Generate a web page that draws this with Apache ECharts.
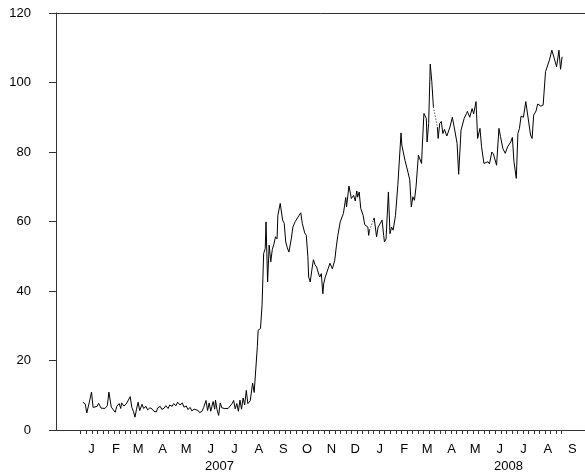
<!DOCTYPE html>
<html>
<head>
<meta charset="UTF-8">
<title></title>
<script src="https://cdn.jsdelivr.net/npm/echarts@6/dist/echarts.min.js"></script>
<style type="text/css">
  *{margin:0;padding:0;}
  #main{width:585px;height:472px;background:#fff;}
</style>
</head>
<body>
<div id="main"></div>
<script type="text/javascript">
// daily series (null = gap in the data)
var dates = [
  '2007-01-04','2007-01-07','2007-01-09','2007-01-12','2007-01-15','2007-01-17','2007-01-19','2007-01-22','2007-01-24','2007-01-27',
  '2007-01-29','2007-02-01','2007-02-04','2007-02-06','2007-02-09','2007-02-11','2007-02-14','2007-02-16','2007-02-19','2007-02-21',
  '2007-02-22','2007-02-25','2007-02-28','2007-03-02','2007-03-05','2007-03-07','2007-03-09','2007-03-11','2007-03-13','2007-03-15',
  '2007-03-17','2007-03-20','2007-03-22','2007-03-25','2007-03-27','2007-03-30','2007-04-02','2007-04-04','2007-04-07','2007-04-09',
  '2007-04-12','2007-04-14','2007-04-17','2007-04-19','2007-04-22','2007-04-24','2007-04-27','2007-04-29','2007-05-02','2007-05-04',
  '2007-05-07','2007-05-10','2007-05-12','2007-05-15','2007-05-17','2007-05-20','2007-05-22','2007-05-25','2007-05-27','2007-05-30',
  '2007-06-01','2007-06-04','2007-06-06','2007-06-09','2007-06-11','2007-06-13','2007-06-15','2007-06-18','2007-06-20','2007-06-21',
  '2007-06-23','2007-06-25','2007-06-27','2007-06-29','2007-07-02','2007-07-04','2007-07-07','2007-07-09','2007-07-12','2007-07-14',
  '2007-07-16','2007-07-18','2007-07-20','2007-07-22','2007-07-24','2007-07-26','2007-07-28','2007-07-30','2007-08-01','2007-08-04',
  '2007-08-07','2007-08-09','2007-08-11','2007-08-13','2007-08-14','2007-08-17','2007-08-19','2007-08-21','2007-08-23','2007-08-24',
  '2007-08-26','2007-08-28','2007-08-30','2007-09-01','2007-09-03','2007-09-05','2007-09-07','2007-09-08','2007-09-11','2007-09-14',
  '2007-09-16','2007-09-18','2007-09-20','2007-09-22','2007-09-25','2007-09-27','2007-09-30','2007-10-02','2007-10-05','2007-10-07',
  '2007-10-09','2007-10-11','2007-10-12','2007-10-14','2007-10-16','2007-10-17','2007-10-19','2007-10-21','2007-10-23','2007-10-25',
  '2007-10-27','2007-10-29','2007-10-31','2007-11-02','2007-11-04','2007-11-05','2007-11-07','2007-11-09','2007-11-13','2007-11-16',
  '2007-11-19','2007-11-21','2007-11-23','2007-11-26','2007-11-30','2007-12-03','2007-12-04','2007-12-07','2007-12-09','2007-12-10',
  '2007-12-13','2007-12-15','2007-12-17','2007-12-18','2007-12-20','2007-12-22','2007-12-25','2007-12-27','2007-12-31','2008-01-01',
  '2008-01-02','2008-01-04','2008-01-07','2008-01-08','2008-01-11','2008-01-13','2008-01-15','2008-01-18','2008-01-20','2008-01-21',
  '2008-01-23','2008-01-26','2008-01-28','2008-01-30','2008-02-01','2008-02-04','2008-02-06','2008-02-07','2008-02-11','2008-02-12',
  '2008-02-13','2008-02-16','2008-02-18','2008-02-20','2008-02-22','2008-02-24','2008-02-26','2008-02-28','2008-03-01','2008-03-04',
  '2008-03-08','2008-03-09','2008-03-11','2008-03-14','2008-03-15','2008-03-17','2008-03-19','2008-03-21','2008-03-23','2008-03-25',
  '2008-03-28','2008-03-29','2008-03-31','2008-04-02','2008-04-04','2008-04-06','2008-04-09','2008-04-13','2008-04-16','2008-04-19',
  '2008-04-22','2008-04-24','2008-04-27','2008-05-01','2008-05-04','2008-05-05','2008-05-08','2008-05-11','2008-05-13','2008-05-16',
  '2008-05-18','2008-05-21','2008-05-23','2008-05-26','2008-05-28','2008-05-31','2008-06-02','2008-06-05','2008-06-07','2008-06-11',
  '2008-06-14','2008-06-16','2008-06-19','2008-06-22','2008-06-25','2008-06-29','2008-07-01','2008-07-03','2008-07-06','2008-07-08',
  '2008-07-10','2008-07-12','2008-07-15','2008-07-18','2008-07-20','2008-07-24','2008-07-26','2008-07-28','2008-07-31','2008-08-02',
  '2008-08-06','2008-08-09','2008-08-12','2008-08-14','2008-08-17','2008-08-20','2008-08-23','2008-08-26','2008-08-29','2008-08-31',
  '2008-09-02'
];
var values = [
  8.0,7.5,4.9,7.8,10.9,6.5,7.0,6.8,7.7,6.3,
  6.6,6.2,7.0,10.9,6.6,6.0,5.1,6.8,7.6,6.2,
  7.8,6.9,7.5,7.0,9.6,6.5,5.4,3.7,6.0,8.0,
  5.6,7.4,6.2,6.8,5.8,6.4,6.0,5.4,5.2,6.4,
  6.8,5.9,6.3,7.0,6.2,7.2,6.8,7.6,7.0,8.0,
  7.2,7.8,6.6,6.9,5.9,6.5,5.5,6.0,6.2,5.6,
  5.0,5.4,6.5,8.5,5.6,7.8,5.4,8.2,6.0,8.6,
  5.8,4.2,7.8,6.4,6.2,6.0,6.2,5.8,7.6,8.5,
  6.1,7.6,5.4,8.6,6.0,9.2,7.2,11.4,7.6,8.4,
  13.5,10.8,10.7,24.0,28.7,29.2,36.0,50.8,52.2,59.9,
  42.6,53.2,48.4,52.0,53.5,55.6,55.0,61.8,65.2,60.4,
  59.5,54.1,52.4,51.2,55.0,58.4,60.0,60.4,61.8,62.5,
  59.4,59.8,56.7,56.0,50.0,44.0,42.6,46.0,49.0,47.6,
  46.9,47.2,44.0,45.0,39.2,42.0,44.0,44.5,48.0,46.4,
  48.8,52.7,56.0,59.9,62.3,66.9,64.2,70.2,68.0,66.6,
  67.5,65.9,68.8,67.0,68.5,63.7,61.8,59.1,58.4,56.0,
  57.5,null,60.4,61.0,55.6,58.4,58.6,60.4,56.0,54.1,
  55.0,68.5,56.5,58.4,57.5,61.8,62.0,70.7,85.5,82.0,
  82.5,77.6,78.0,74.0,72.0,64.2,67.1,66.1,70.0,79.1,
  76.7,82.0,91.1,89.7,82.9,88.2,105.3,100.2,93.0,null,
  87.2,83.9,88.2,88.8,85.3,86.5,84.6,87.2,90.0,86.3,
  82.5,73.6,86.3,89.7,91.1,91.7,90.0,92.5,91.0,94.5,
  83.9,86.8,81.5,76.7,76.4,77.2,76.6,80.0,79.4,76.2,
  86.8,84.4,81.0,79.6,81.5,82.9,84.2,77.2,72.4,85.3,
  86.8,90.3,90.0,94.5,94.2,84.9,83.9,90.6,91.8,93.8,
  93.2,93.5,103.1,102.8,106.5,109.3,107.0,104.5,109.3,103.8,
  107.4
];
// dotted joins across the two gaps
var gapDates = ['2008-01-02','2008-01-07','2008-02-15','2008-03-23','2008-03-28'];
var gapValues = [57.5,60.4,null,93.0,87.2];

var monthTicks = ['2007-01-15','2007-02-15','2007-03-15','2007-04-15','2007-05-15','2007-06-15','2007-07-15','2007-08-15','2007-09-15',
  '2007-10-15','2007-11-15','2007-12-15','2008-01-15','2008-02-15','2008-03-15','2008-04-15','2008-05-15','2008-06-15','2008-07-15',
  '2008-08-15','2008-09-15'];
var monthLabels = ['J','F','M','A','M','J','J','A','S','O','N','D','J','F','M','A','M','J','J','A','S'];
var yearTicks = ['2007-06-26','2008-06-26'];
var yearLabels = ['2007','2008'];

function ts(s) {
  var p = s.split('-');
  return new Date(+p[0], +p[1] - 1, +p[2]).getTime();
}

// weekly minor ticks under the axis, Jan 2007 .. end of Aug 2008
var weekTicks = [];
for (var t = new Date(2007, 0, 1); t <= new Date(2008, 8, 1); t.setDate(t.getDate() + 7)) {
  weekTicks.push([t.getTime(), 0]);
}

var seriesData = [];
for (var i = 0; i < dates.length; i++) seriesData.push([ts(dates[i]), values[i] === null ? '-' : values[i]]);
var gapData = [];
for (var k = 0; k < gapDates.length; k++) gapData.push([ts(gapDates[k]), gapValues[k] === null ? '-' : gapValues[k]]);

var monthVals = monthTicks.map(ts);
var yearVals = yearTicks.map(ts);
var xMin = ts('2006-12-01'), xMax = ts('2008-10-01');

var axisColor = '#333';
var textStyle = {color: '#000', fontSize: 13, fontFamily: 'Liberation Sans, Arial, sans-serif'};

var myChart = echarts.init(document.getElementById('main'));
var option = {
  animation: false,
  grid: {left: 56, right: 0, top: 13, bottom: 42, outerBoundsMode: 'none'},
  xAxis: [
    {
      type: 'value',
      min: xMin, max: xMax,
      splitLine: {show: false},
      axisLine: {show: true, lineStyle: {color: axisColor, width: 1}},
      axisTick: {show: false},
      axisLabel: Object.assign({
        margin: 13,
        customValues: monthVals,
        formatter: function (v) { return monthLabels[monthVals.indexOf(v)]; }
      }, textStyle)
    },
    {
      type: 'value', position: 'top',
      min: xMin, max: xMax,
      splitLine: {show: false},
      axisLine: {show: true, lineStyle: {color: axisColor, width: 1}},
      axisTick: {show: false},
      axisLabel: {show: false}
    },
    {
      type: 'value', position: 'bottom', offset: 0,
      min: xMin, max: xMax,
      splitLine: {show: false},
      axisLine: {show: false},
      axisTick: {show: false},
      axisLabel: Object.assign({
        margin: 30,
        customValues: yearVals,
        formatter: function (v) { return yearLabels[yearVals.indexOf(v)]; }
      }, textStyle)
    }
  ],
  yAxis: {
    type: 'value',
    min: 0, max: 120, interval: 20,
    splitLine: {show: false},
    axisLine: {show: true, lineStyle: {color: axisColor, width: 1}},
    axisTick: {show: true, length: 7, lineStyle: {color: axisColor}},
    axisLabel: Object.assign({margin: 25}, textStyle)
  },
  series: [
    {
      type: 'custom',
      xAxisIndex: 0,
      data: weekTicks,
      clip: false,
      silent: true,
      renderItem: function (params, api) {
        var p = api.coord([api.value(0), 0]);
        var x = Math.round(p[0]) + 0.5;
        return {
          type: 'line',
          shape: {x1: x, y1: p[1], x2: x, y2: p[1] + 4},
          style: {stroke: axisColor, lineWidth: 1}
        };
      }
    },
    {
      type: 'line',
      xAxisIndex: 0,
      data: seriesData,
      showSymbol: false,
      symbol: 'none',
      connectNulls: false,
      lineStyle: {color: '#000', width: 1}
    },
    {
      type: 'line',
      xAxisIndex: 0,
      data: gapData,
      showSymbol: false,
      symbol: 'none',
      connectNulls: false,
      lineStyle: {color: '#000', width: 1, type: [1, 2]}
    }
  ]
};
myChart.setOption(option);
</script>
</body>
</html>
